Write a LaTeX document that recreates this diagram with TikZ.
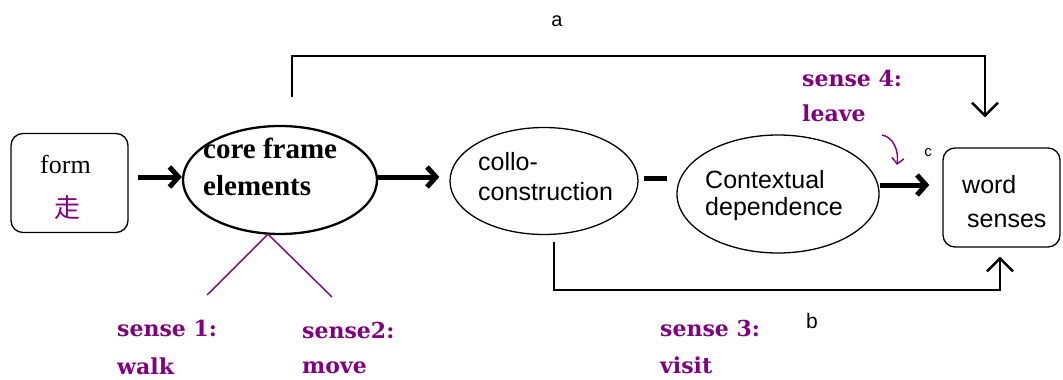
\documentclass[tikz,border=0pt]{standalone}
\usepackage{fontspec}
\setmainfont{Liberation Serif}
\newfontfamily\sansf{Liberation Sans}
\newfontfamily\dvs{DejaVu Serif}
\newfontfamily\cjk{Noto Sans CJK SC}
\usetikzlibrary{shapes.geometric,arrows.meta}
\definecolor{senpurple}{RGB}{128,0,128}
\tikzset{
  box/.style={draw, rounded corners=12pt, line width=1.3pt, minimum width=117pt, minimum height=99pt, inner sep=0pt},
  ell/.style={draw, ellipse, inner sep=0pt, line width=1.3pt},
  lbl/.style={anchor=base west, align=left, inner sep=0pt},
  sense/.style={lbl, text=senpurple, font=\dvs\bfseries\fontsize{22}{37}\selectfont},
  sanstxt/.style={lbl, font=\sansf\fontsize{25}{30}\selectfont},
  bigarrow/.style={line width=5pt, -{Straight Barb[length=9pt,width=20pt]}},
  conn/.style={line width=2.5pt, -{Straight Barb[length=13pt,width=26pt]}},
  purp/.style={draw=senpurple, line width=1.4pt},
}
\begin{document}
\begin{tikzpicture}[x=1pt,y=-1pt]
\useasboundingbox[fill=white] (0,0) rectangle (1063,380);
% boxes and ellipses
\node[box] (form) at (69.5,183) {};
\node[ell, line width=2.3pt, minimum width=194pt, minimum height=108pt] (core) at (280,180) {};
\node[ell, minimum width=188pt, minimum height=107pt] (collo) at (544,181) {};
\node[ell, minimum width=202pt, minimum height=118pt] (ctx) at (778,194) {};
\node[box] (word) at (1001.5,197.5) {};
% texts (base anchor = baseline of the last line)
\node[lbl, font=\fontsize{26}{45}\selectfont] (formtxt) at (40,173) {form};
\node[anchor=base, inner sep=0pt, text=senpurple, font=\cjk\fontsize{26}{30}\selectfont] (zou) at (67,217) {走};
\node[lbl, font=\bfseries\fontsize{29}{37}\selectfont] (coretxt) at (203,195) {core frame\\elements};
\node[sanstxt] (collotxt) at (478,200) {collo-\\construction};
\node[sanstxt, font=\sansf\fontsize{25}{27}\selectfont] (ctxtxt) at (705,215) {Contextual\\dependence};
\node[sanstxt, font=\sansf\fontsize{25}{34}\selectfont] (wordtxt) at (962,227) {word\\\hspace*{5pt}senses};
% main arrows
\draw[bigarrow] ([xshift=9pt,yshift=6pt]form.east) -- ([yshift=3pt]core.west);
\draw[bigarrow, shorten >=10pt] ([yshift=3pt]core.east) -- ([yshift=4pt]collo.west);
\draw[line width=5pt, shorten <=5pt, shorten >=9pt] ([yshift=3pt]collo.east) -- ([yshift=16pt]ctx.west);
\draw[bigarrow, shorten >=13pt] ([yshift=9pt]ctx.east) -- ([yshift=12.5pt]word.west);
% route a
\draw[conn] ([xshift=12pt,yshift=28pt]core.north) -- ++(0,-41) -| ([xshift=-16.5pt,yshift=30pt]word.north);
\node[anchor=center, font=\sansf\fontsize{20}{22}\selectfont] (la) at (557,21) {a};
% route b
\draw[conn] ([xshift=10pt,yshift=-7pt]collo.south) -- ++(0,48) -| ([xshift=-1.5pt,yshift=-9pt]word.south);
\node[anchor=center, font=\sansf\fontsize{21}{22}\selectfont] (lb) at (812,321) {b};
\node[anchor=center, font=\sansf\fontsize{15}{16}\selectfont] (lc) at (928,153) {c};
% purple sense lines
\coordinate (cb) at ([xshift=-12pt,yshift=1pt]core.south);
\coordinate (s1end) at (207,295);
\coordinate (s2end) at (332,297);
\draw[purp] (cb) -- (s1end);
\draw[purp] (cb) -- (s2end);
% sense labels
\node[sense, font=\dvs\bfseries\fontsize{22}{38}\selectfont] (s1) at (117,374) {sense 1:\\walk};
\node[sense, font=\dvs\bfseries\fontsize{22}{35}\selectfont] (s2) at (302,373) {sense2:\\move};
\node[sense] (s3) at (660,373) {sense 3:\\visit};
\node[sense, font=\dvs\bfseries\fontsize{22}{35}\selectfont] (s4) at (802,121) {sense 4:\\leave};
\coordinate (cstart) at (882,135);
\coordinate (cend) at (897,165);
\draw[purp, -{Straight Barb[length=6pt,width=12pt]}] (cstart) .. controls (893,137) and (899,150) .. (cend);
\end{tikzpicture}
\end{document}
